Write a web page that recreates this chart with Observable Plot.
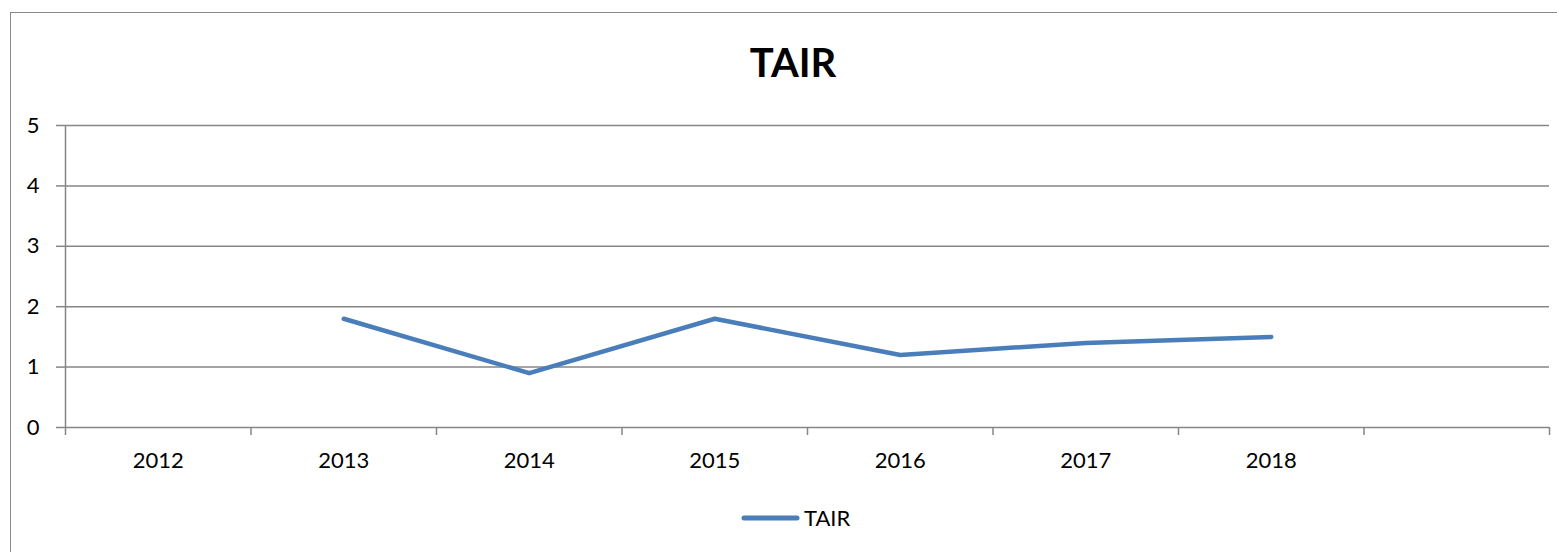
<!DOCTYPE html>
<html>
<head>
<meta charset="utf-8">
<script src="https://cdn.jsdelivr.net/npm/d3@7"></script>
<script src="https://cdn.jsdelivr.net/npm/@observablehq/plot@0.6"></script>
<style>
  html, body { margin: 0; padding: 0; background: #fff; overflow: hidden; }
  body { width: 1557px; height: 552px; position: relative; font-family: Lato, "Open Sans", sans-serif; }
  #frame { position: absolute; left: 10px; top: 12px; width: 1547px; height: 540px; border-left: 1.5px solid #8a8a8a; border-top: 1.5px solid #8a8a8a; box-sizing: border-box; }
  #title { position: absolute; left: 643px; width: 300px; top: 38px; text-align: center; font-weight: bold; font-size: 40px; line-height: 48px; color: #000; }
  #chart { position: absolute; left: 0; top: 100px; }
  #legend { position: absolute; left: 740px; top: 503px; display: flex; align-items: center; font-size: 22px; line-height: 30px; color: #000; }
</style>
</head>
<body>
<div id="frame"></div>
<div id="title"></div>
<div id="chart"></div>
<div id="legend"></div>
<script>
// ---- data ----
const seriesName = "TAIR";
const categories = [2012, 2013, 2014, 2015, 2016, 2017, 2018];
const years = [2013, 2014, 2015, 2016, 2017, 2018];
const values = [1.8, 0.9, 1.8, 1.2, 1.4, 1.5];
const yTicks = [0, 1, 2, 3, 4, 5];

const lineColor = "#4a7ebb";
const gridColor = "#868686";

const data = years.map((y, i) => ({year: y, value: values[i]}));
// category slots: 7 labelled + 1 empty slot at the end (as in the reference)
const nSlots = categories.length + 1;
const x0 = categories[0] - 0.5;
const boundaries = d3.range(nSlots + 1).map(i => x0 + i);

document.getElementById("title").textContent = seriesName;

const chart = Plot.plot({
  width: 1557,
  height: 400,
  marginLeft: 65,
  marginRight: 8,
  marginTop: 25,
  marginBottom: 73,
  style: {fontFamily: "Lato, 'Open Sans', sans-serif", fontSize: "22px", color: "#000", background: "transparent"},
  x: {type: "linear", domain: [boundaries[0], boundaries[boundaries.length - 1]]},
  y: {domain: [0, 5]},
  marks: [
    Plot.gridY(yTicks, {stroke: gridColor, strokeOpacity: 1, strokeWidth: 1.5}),
    Plot.ruleX([boundaries[0]], {y1: 0, y2: 5, stroke: gridColor, strokeWidth: 1.5}),
    Plot.axisY({ticks: yTicks, tickSize: 9, tickPadding: 17, label: null, stroke: gridColor, strokeWidth: 1.5, tickFormat: d => String(d), fill: "#000"}),
    Plot.axisX({ticks: boundaries, tickSize: 8, tickFormat: () => "", label: null, stroke: gridColor, strokeWidth: 1.5}),
    Plot.axisX({ticks: categories, tickSize: 0, tickPadding: 25, label: null, tickFormat: d => String(d), fill: "#000"}),
    Plot.line(data, {x: "year", y: "value", stroke: lineColor, strokeWidth: 4.5, strokeLinecap: "round", strokeLinejoin: "round"})
  ]
});
document.getElementById("chart").appendChild(chart);

// legend
const legend = document.getElementById("legend");
legend.innerHTML = `<svg width="62" height="12" style="margin-right:2px"><line x1="4" y1="6" x2="57" y2="6" stroke="${lineColor}" stroke-width="5" stroke-linecap="round"/></svg><span></span>`;
legend.querySelector("span").textContent = seriesName;
</script>
</body>
</html>
